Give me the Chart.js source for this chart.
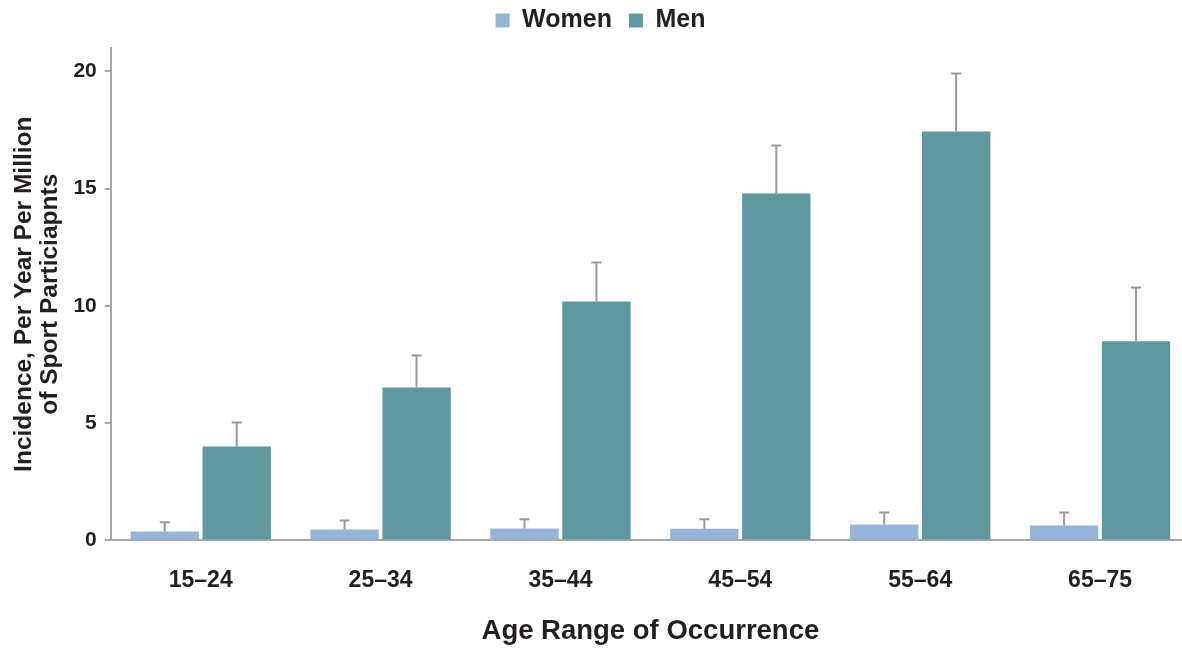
<!DOCTYPE html>
<html>
<head>
<meta charset="utf-8">
<script src="https://cdn.jsdelivr.net/npm/chart.js@4/dist/chart.umd.min.js"></script>
<style>
  html, body { margin: 0; padding: 0; overflow: hidden; background: #fff; }
  #wrap { width: 1190px; height: 648px; }
</style>
</head>
<body>
<div id="wrap"><canvas id="myChart"></canvas></div>
<script>
const ageRanges = ['15–24', '25–34', '35–44', '45–54', '55–64', '65–75'];
const women = [0.38, 0.47, 0.51, 0.50, 0.68, 0.64];
const womenErr = [0.39, 0.38, 0.39, 0.40, 0.51, 0.55];
const men = [4.0, 6.52, 10.19, 14.8, 17.44, 8.49];
const menErr = [1.03, 1.37, 1.66, 2.04, 2.47, 2.3];
const yTicks = [0, 5, 10, 15, 20];

const textColor = '#231f20';
const axisColor = '#a6a6a6';

// draws the upper half of the error bars
const errorBars = {
    id: 'errorBars',
    afterDatasetsDraw(chart) {
        const ctx = chart.ctx;
        const y = chart.scales.y;
        const errs = [womenErr, menErr];
        ctx.save();
        ctx.strokeStyle = '#9a9a9c';
        ctx.lineWidth = 2;
        chart.data.datasets.forEach((ds, i) => {
            chart.getDatasetMeta(i).data.forEach((bar, j) => {
                const top = y.getPixelForValue(ds.data[j] + errs[i][j]);
                ctx.beginPath();
                ctx.moveTo(bar.x, bar.y);
                ctx.lineTo(bar.x, top);
                ctx.moveTo(bar.x - 5, top);
                ctx.lineTo(bar.x + 5, top);
                ctx.stroke();
            });
        });
        ctx.restore();
    }
};

// a bit more room under the legend
const legendGap = {
    id: 'legendGap',
    beforeInit(chart) {
        const fit = chart.legend.fit;
        chart.legend.fit = function () {
            fit.bind(chart.legend)();
            this.height += 5;
        };
    }
};

let callChart = document.getElementById('myChart').getContext('2d');
let chart = new Chart(callChart, {
    type: 'bar',
    data: {
        labels: ageRanges,
        datasets: [{
            label: 'Women',
            backgroundColor: 'rgb(150, 180, 216)',
            data: women
        }, {
            label: 'Men',
            backgroundColor: 'rgb(96, 152, 159)',
            data: men
        }]
    },
    options: {
        responsive: true,
        maintainAspectRatio: false,
        animation: false,
        categoryPercentage: 0.8,
        barPercentage: 0.95,
        layout: { padding: { left: 11, top: -9 } },
        plugins: {
            tooltip: { enabled: false },
            legend: {
                position: 'top',
                labels: {
                    boxWidth: 14,
                    boxHeight: 14,
                    padding: 17,
                    color: textColor,
                    font: { family: 'Liberation Sans', size: 25, weight: 'bold' }
                }
            }
        },
        scales: {
            x: {
                grid: { display: false },
                border: { color: axisColor, width: 2 },
                ticks: {
                    color: textColor,
                    padding: 18,
                    font: { family: 'Liberation Sans', size: 23, weight: 'bold' }
                },
                title: {
                    display: true,
                    text: 'Age Range of Occurrence',
                    color: textColor,
                    padding: { top: 3, bottom: 0 },
                    font: { family: 'Liberation Sans', size: 27.5, weight: 'bold' }
                }
            },
            y: {
                min: 0,
                max: 21,
                afterBuildTicks(axis) {
                    axis.ticks = yTicks.map(v => ({ value: v }));
                },
                grid: { drawOnChartArea: false, color: axisColor, lineWidth: 2, tickLength: 6 },
                border: { color: axisColor, width: 2 },
                ticks: {
                    color: textColor,
                    padding: 8,
                    font: { family: 'Liberation Sans', size: 21, weight: 'bold' }
                },
                title: {
                    display: true,
                    text: ['Incidence, Per Year Per Million', 'of Sport Particiapnts'],
                    color: textColor,
                    padding: { top: 0, bottom: 2 },
                    font: { family: 'Liberation Sans', size: 24.5, weight: 'bold', lineHeight: 1.07 }
                }
            }
        }
    },
    plugins: [errorBars, legendGap]
});
</script>
</body>
</html>
